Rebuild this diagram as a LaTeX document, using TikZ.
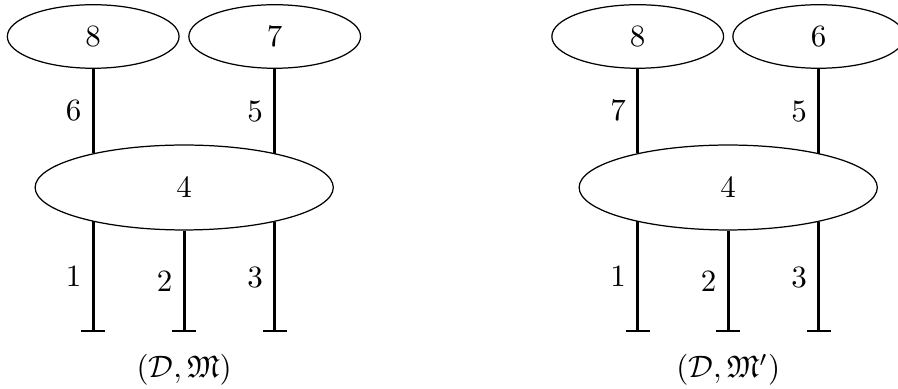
\documentclass[tikz,border=0pt]{standalone}
\usepackage{amssymb}
\usetikzlibrary{shapes.geometric,arrows.meta}
\begin{document}
\begin{tikzpicture}[x=0.3226pt,y=-0.3226pt,
  smallell/.style={ellipse,draw,line width=0.4pt,minimum width=55.4pt,minimum height=20.5pt,inner sep=0pt},
  bigell/.style={ellipse,draw,line width=0.4pt,minimum width=96.2pt,minimum height=27.4pt,inner sep=0pt},
  leg/.style={line width=0.9pt},
  extleg/.style={line width=0.9pt,-{Bar[width=7.7pt,line width=0.9pt]}},
  lab/.style={left}
  ]
\useasboundingbox (0,0) rectangle (898,389);
\clip (0,0) rectangle (898,389);
% left diagram
\node[smallell] (La) at (93.2,36.5) {$8$};
\node[smallell] (Lb) at (274.7,36.5) {$7$};
\node[bigell] (Lc) at (184.2,187.5) {$4$};
\coordinate (Le1) at (93.2,332.3);
\coordinate (Le2) at (184.2,332.3);
\coordinate (Le3) at (274.7,332.3);
\draw[leg] (La.south) -- node[lab] {$6$} (La.south |- Lc.159.7);
\draw[leg] (Lb.south) -- node[lab] {$5$} (Lb.south |- Lc.20.3);
\draw[extleg] (Le1 |- Lc.200.3) -- node[lab] {$1$} (Le1);
\draw[extleg] (Lc.south) -- node[lab] {$2$} (Le2);
\draw[extleg] (Le3 |- Lc.339.7) -- node[lab] {$3$} (Le3);
\node (Lcap) at (184.2,370) {$(\mathcal{D},\mathfrak{M})$};
% right diagram
\node[smallell] (Ra) at (637.7,36.5) {$8$};
\node[smallell] (Rb) at (818.7,36.5) {$6$};
\node[bigell] (Rc) at (728.2,187.5) {$4$};
\coordinate (Re1) at (637.7,332.3);
\coordinate (Re2) at (728.2,332.3);
\coordinate (Re3) at (818.7,332.3);
\draw[leg] (Ra.south) -- node[lab] {$7$} (Ra.south |- Rc.159.7);
\draw[leg] (Rb.south) -- node[lab] {$5$} (Rb.south |- Rc.20.3);
\draw[extleg] (Re1 |- Rc.200.3) -- node[lab] {$1$} (Re1);
\draw[extleg] (Rc.south) -- node[lab] {$2$} (Re2);
\draw[extleg] (Re3 |- Rc.339.7) -- node[lab] {$3$} (Re3);
\node (Rcap) at (728.2,370) {$(\mathcal{D},\mathfrak{M}')$};
\end{tikzpicture}
\end{document}
